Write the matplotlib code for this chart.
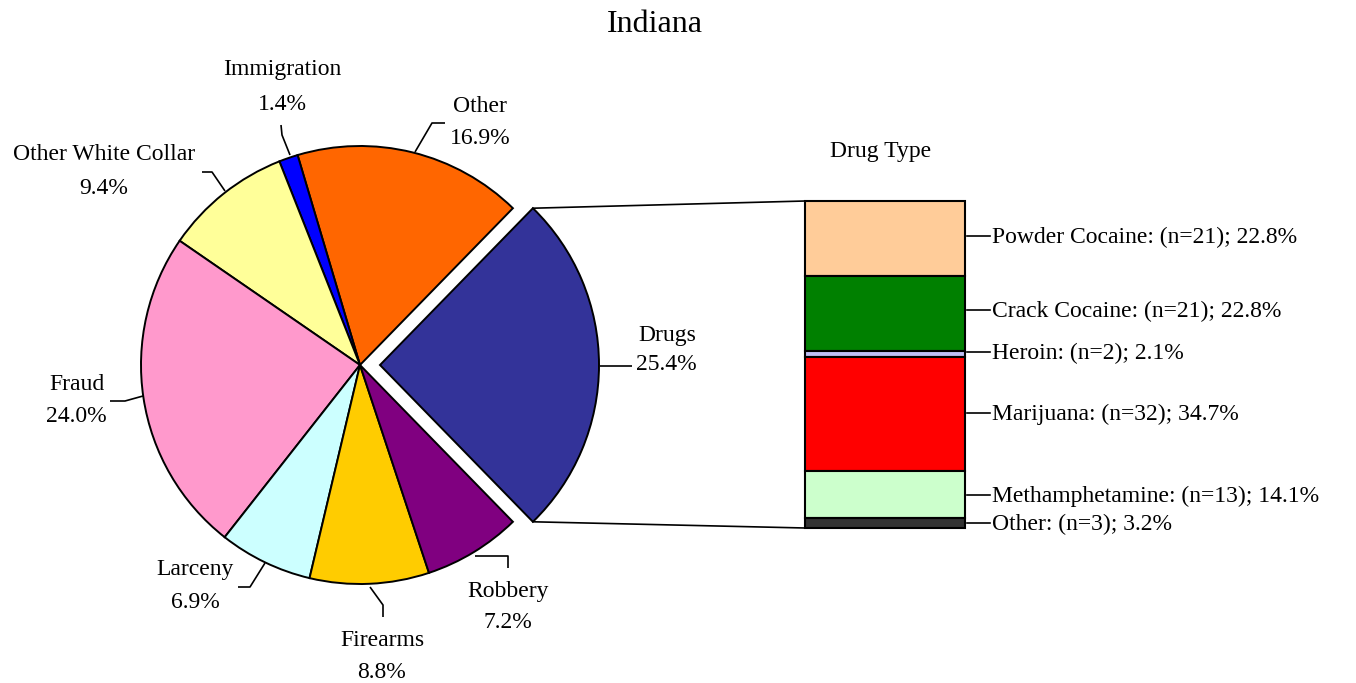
import matplotlib
matplotlib.use("Agg")
import matplotlib.pyplot as plt
import numpy as np

# ---------------- data ----------------
title = "Indiana"
pie_labels = ["Drugs", "Other", "Immigration", "Other White Collar", "Fraud",
              "Larceny", "Firearms", "Robbery"]
pie_values = [25.4, 16.9, 1.4, 9.4, 24.0, 6.9, 8.8, 7.2]
pie_colors = ["#333399", "#FF6600", "#0000FF", "#FFFF99", "#FF99CC",
              "#CCFFFF", "#FFCC00", "#800080"]

bar_title = "Drug Type"
drug_labels = ["Powder Cocaine", "Crack Cocaine", "Heroin", "Marijuana",
               "Methamphetamine", "Other"]
drug_counts = [21, 21, 2, 32, 13, 3]
drug_pcts = [22.8, 22.8, 2.1, 34.7, 14.1, 3.2]
drug_colors = ["#FFCC99", "#008000", "#BFBFF5", "#FF0000", "#CCFFCC", "#333333"]

# ---------------- figure ----------------
W, H = 1356, 683
fig = plt.figure(figsize=(W / 100, H / 100), dpi=100)
FONT = "Liberation Serif"
FS = 17

ax = fig.add_axes([0, 0, 1, 1])

def Y(y):  # pixel (top-down) -> data (bottom-up)
    return H - y

pie_center = (360, Y(365))
pie_radius = 219
total = sum(pie_values)
start = -pie_values[0] / total * 360 / 2
# matplotlib's explode offset is applied in data units
explode = [20] + [0] * (len(pie_values) - 1)
wedges, _ = ax.pie(pie_values, colors=pie_colors, startangle=start,
                   counterclock=True, radius=pie_radius, center=pie_center,
                   explode=explode,
                   wedgeprops=dict(edgecolor="black", linewidth=1.4))
ax.set_xlim(0, W)
ax.set_ylim(0, H)
ax.set_aspect("equal")
ax.axis("off")

# ---------------- pie labels ----------------
label_layout = {
    "Other": ((480, 106), (480, 139), [(415, 152), (432, 123), (445, 123)]),
    "Immigration": ((282, 70), (282, 104), [(281, 125), (282, 135), (290, 155)]),
    "Other White Collar": ((104, 155), (104, 188), [(202, 172), (212, 172), (225, 191)]),
    "Fraud": ((77, 384), (76, 417), [(110, 401), (125, 401), (143, 396)]),
    "Drugs": ((667, 335), (666, 365), [(600, 366), (632, 366)]),
    "Larceny": ((195, 570), (195, 602), [(238, 587), (250, 587), (265, 563)]),
    "Firearms": ((382, 640), (382, 672), [(370, 587), (383, 605), (383, 617)]),
    "Robbery": ((508, 591), (508, 623), [(475, 556), (508, 556), (508, 568)]),
}
for name, val in zip(pie_labels, pie_values):
    (nx, ny), (vx, vy), leader = label_layout[name]
    ax.text(nx, Y(ny), name, ha="center", va="center", fontsize=FS, family=FONT)
    ax.text(vx, Y(vy), f"{val:.1f}%", ha="center", va="center", fontsize=FS, family=FONT)
    xs = [p[0] for p in leader]
    ys = [Y(p[1]) for p in leader]
    ax.plot(xs, ys, color="black", lw=1.2, solid_capstyle="butt")

ax.text(655, Y(25), title, ha="center", va="center", fontsize=23, family=FONT)
ax.text(881, Y(152), bar_title, ha="center", va="center", fontsize=FS, family=FONT)

# ---------------- stacked bar ----------------
bar_left, bar_right = 805, 965
bar_top, bar_bottom = 201, 528
bax = fig.add_axes([bar_left / W, Y(bar_bottom) / H,
                    (bar_right - bar_left) / W, (bar_bottom - bar_top) / H])
bar_total = sum(drug_pcts)
bottoms = bar_total - np.cumsum(drug_pcts)
bars = bax.bar([0] * len(drug_pcts), drug_pcts, bottom=bottoms, width=1.0,
               color=drug_colors, edgecolor="black", linewidth=1.5)
for b in bars:
    b.set_clip_on(False)
bax.set_xlim(-0.5, 0.5)
bax.set_ylim(0, bar_total)
bax.axis("off")

label_y = [236, 310, 352, 413, 495, 523]
for lab, n, p, ly in zip(drug_labels, drug_counts, drug_pcts, label_y):
    ax.plot([967, 990], [Y(ly), Y(ly)], color="black", lw=1.2)
    ax.text(992, Y(ly + 1), f"{lab}: (n={n}); {p:.1f}%", ha="left", va="center",
            fontsize=FS, family=FONT)

# ---------------- connection lines ----------------
w = wedges[0]
cx, cy = w.center
for th, by in [(w.theta2, bar_top), (w.theta1, bar_bottom)]:
    ex = cx + w.r * np.cos(np.radians(th))
    ey = cy + w.r * np.sin(np.radians(th))
    ax.plot([ex, bar_left], [ey, Y(by)], color="black", lw=1.2)

fig.savefig("out.png", dpi=100)
